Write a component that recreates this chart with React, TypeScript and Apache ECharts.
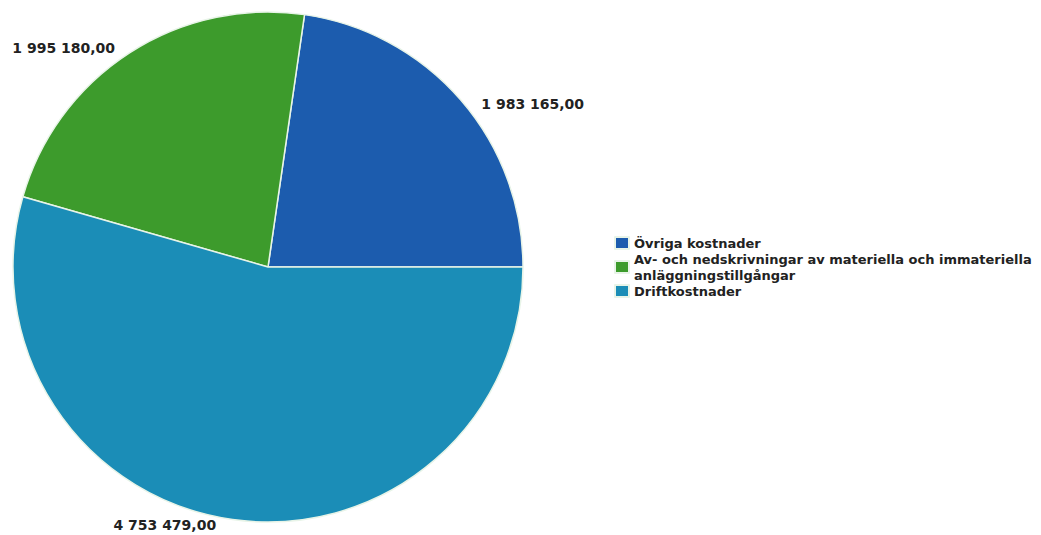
import React, { useEffect, useRef } from "react";
import * as echarts from "echarts";

const categories = [
  "Övriga kostnader",
  "Av- och nedskrivningar av materiella och immateriella anläggningstillgångar",
  "Driftkostnader",
];
const values = [1983165.0, 1995180.0, 4753479.0];
const colors = ["#1c5cae", "#3d9b2c", "#1b8db7"];
const labelShift = [
  [4, 10],
  [0, 4],
  [-6, -2],
];

function fmt(v: number): string {
  const [i, d] = v.toFixed(2).split(".");
  return i.replace(/\B(?=(\d{3})+(?!\d))/g, " ") + "," + d;
}

export default function App() {
  const ref = useRef<HTMLDivElement>(null);
  useEffect(() => {
    document.body.style.margin = "0";
    const chart = echarts.init(ref.current!, null, { renderer: "svg" });
    chart.setOption({
      animation: false,
      color: colors,
      legend: {
        orient: "vertical",
        left: 609,
        top: 230,
        itemWidth: 14,
        itemHeight: 12,
        itemGap: 0,
        icon: "rect",
        data: categories,
        textStyle: {
          fontFamily: "DejaVu Sans",
          fontWeight: "bold",
          fontSize: 13,
          color: "#222",
          width: 420,
          overflow: "break",
          lineHeight: 16,
        },
      },
      series: [
        {
          type: "pie",
          center: [268, 267],
          radius: 255,
          startAngle: 0,
          clockwise: false,
          data: categories.map((c, i) => ({ name: c, value: values[i] })),
          itemStyle: { borderColor: "#e8f4e8", borderWidth: 1.5 },
          label: {
            show: true,
            position: "outside",
            formatter: (p: any) => fmt(p.value),
            fontFamily: "DejaVu Sans",
            fontWeight: "bold",
            fontSize: 14,
            color: "#222",
            overflow: "none",
          },
          labelLine: { show: false, length: 10, length2: 4 },
          labelLayout: (p: any) => ({
            dx: labelShift[p.dataIndex][0],
            dy: labelShift[p.dataIndex][1],
          }),
          emphasis: { disabled: true },
        },
      ],
    });
    return () => chart.dispose();
  }, []);
  return (
    <div
      ref={ref}
      style={{ position: "absolute", left: 0, top: 0, width: 1041, height: 535, background: "#fff" }}
    />
  );
}
